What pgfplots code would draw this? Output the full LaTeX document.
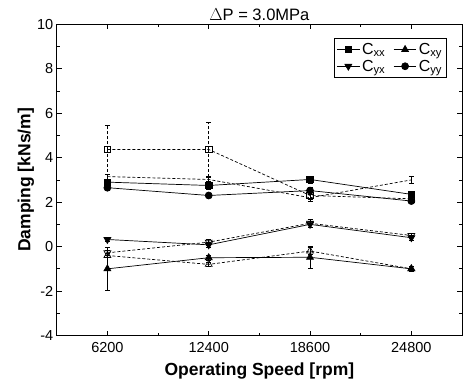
\documentclass[border=0pt]{standalone}
\usepackage{fontspec}
\setmainfont{Liberation Sans}
\usepackage{pgfplots}
\pgfplotsset{compat=1.18}
\usepackage{pgfplotstable}

\pgfplotstableread{
x y e
6200 2.90 0.10
12400 2.75 0.15
18600 3.02 0.15
24800 2.35 0.10
}\fxx
\pgfplotstableread{
x y e
6200 -1.00 0.95
12400 -0.50 0.10
18600 -0.48 0.50
24800 -1.00 0.10
}\fxy
\pgfplotstableread{
x y e
6200 0.32 0.10
12400 0.08 0.10
18600 1.00 0.15
24800 0.40 0.10
}\fyx
\pgfplotstableread{
x y e
6200 2.65 0.10
12400 2.30 0.10
18600 2.52 0.15
24800 2.05 0.10
}\fyy
\pgfplotstableread{
x y e
6200 4.37 1.10
12400 4.37 1.20
18600 2.30 0.15
24800 2.15 0.10
}\oxx
\pgfplotstableread{
x y e
6200 3.15 0.10
12400 3.02 0.10
18600 2.20 0.15
24800 3.00 0.15
}\oyy
\pgfplotstableread{
x y e
6200 -0.28 0.10
12400 0.20 0.15
18600 1.05 0.20
24800 0.50 0.10
}\oyx
\pgfplotstableread{
x y e
6200 -0.40 0.10
12400 -0.80 0.10
18600 -0.20 0.15
24800 -1.00 0.10
}\oxy

\begin{document}
\begin{tikzpicture}
\begin{axis}[
  scale only axis,
  width=405pt, height=311pt,
  xmin=3100, xmax=27900,
  ymin=-4, ymax=10,
  scaled x ticks=false,
  xtick={6200,12400,18600,24800},
  xticklabels={6200,12400,18600,24800},
  ytick={-4,-2,0,2,4,6,8,10},
  yticklabels={-4,-2,0,2,4,6,8,10},
  minor x tick num=1,
  minor y tick num=1,
  tick align=inside,
  major tick length=5pt,
  minor tick length=3pt,
  tick style={black, line width=0.7pt},
  axis line style={line width=0.9pt},
  ticklabel style={font=\fontsize{14.5}{16}\selectfont},
  xticklabel style={yshift=-3pt},
  title={$\Delta$P = 3.0MPa},
  title style={font=\fontsize{16.5}{18}\selectfont, yshift=-6pt},
  xlabel={\textbf{Operating Speed [rpm]}},
  ylabel={\textbf{Damping [kNs/m]}},
  label style={font=\fontsize{17.5}{19}\selectfont},
  xlabel style={yshift=-4pt},
  ylabel style={yshift=-4pt},
  legend columns=2,
  legend style={at={(axis description cs:0.963,0.955)}, anchor=north east,
    draw=black, line width=0.8pt, font=\fontsize{16}{18}\selectfont,
    inner sep=2.5pt, row sep=0pt,
    /tikz/every even column/.append style={column sep=6pt}},
  legend image code/.code={
    \draw[mark repeat=2,mark phase=2,#1] plot coordinates {(0cm,0cm) (0.4cm,0cm) (0.8cm,0cm)};},
  every axis plot/.append style={black, line width=0.7pt},
  error bars/y dir=both, error bars/y explicit,
  error bars/error bar style={line width=0.6pt},
  error bars/error mark options={rotate=90, mark size=2.5pt, line width=0.6pt},
]
% open (dashed) series
\addplot[densely dashed, mark=square, mark size=3.2pt, mark options={solid, fill=white}, forget plot] table[x=x,y=y,y error=e]{\oxx};
\addplot[densely dashed, mark=circle, mark size=3.5pt, mark options={solid, fill=white}, forget plot] table[x=x,y=y,y error=e]{\oyy};
\addplot[densely dashed, mark=triangle, mark size=4pt, mark options={solid, fill=white, rotate=180}, forget plot] table[x=x,y=y,y error=e]{\oyx};
\addplot[densely dashed, mark=triangle, mark size=4pt, mark options={solid, fill=white}, forget plot] table[x=x,y=y,y error=e]{\oxy};
% filled (solid) series
\addplot[mark=square*, mark size=3.2pt, mark options={fill=black}] table[x=x,y=y,y error=e]{\fxx};
\addlegendentry{C\textsubscript{xx}}
\addplot[mark=triangle*, mark size=4pt, mark options={fill=black}] table[x=x,y=y,y error=e]{\fxy};
\addlegendentry{C\textsubscript{xy}}
\addplot[mark=triangle*, mark size=4pt, mark options={fill=black, rotate=180}] table[x=x,y=y,y error=e]{\fyx};
\addlegendentry{C\textsubscript{yx}}
\addplot[mark=*, mark size=3.5pt, mark options={fill=black}] table[x=x,y=y,y error=e]{\fyy};
\addlegendentry{C\textsubscript{yy}}
\coordinate (sw) at (rel axis cs:0,0);
\coordinate (ne) at (rel axis cs:1,1);
\end{axis}
\pgfresetboundingbox
\path[use as bounding box] ([shift={(-56.7pt,-48.3pt)}]sw) rectangle ([shift={(4pt,24.3pt)}]ne);
\end{tikzpicture}
\end{document}
